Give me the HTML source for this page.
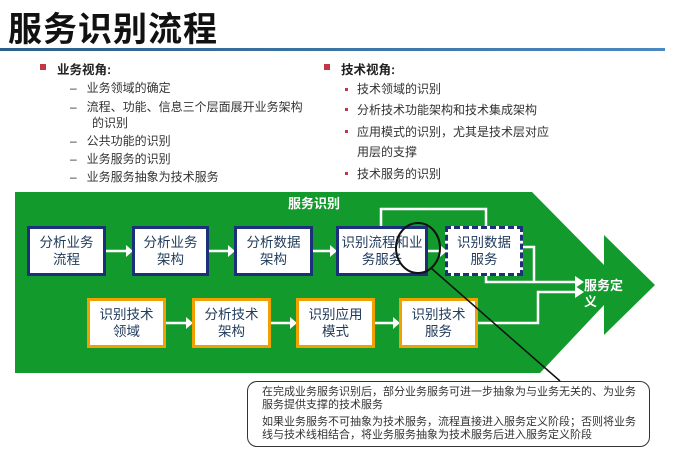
<!DOCTYPE html>
<html><head><meta charset="utf-8"><style>
body{margin:0;width:681px;height:456px;background:#fff;position:relative;overflow:hidden;font-family:"Liberation Sans","Noto Sans CJK SC",sans-serif;color:#333}
.a{position:absolute;white-space:nowrap}
.t{left:8px;top:2px;font-size:34px;font-weight:bold;color:#111;letter-spacing:1px}
.hl{left:0;top:48px;width:665px;height:3px;background:linear-gradient(90deg,#2c5f8a,#4a88c0)}
.s{font-size:12px;color:#333}
.h{font-size:12.5px;font-weight:bold;color:#222}
.sq{position:absolute;width:6px;height:6px;background:#c0394b}
.dot{position:absolute;width:3px;height:3px;background:#c0394b}
.box{position:absolute;background:#fff;box-sizing:border-box;display:flex;align-items:center;justify-content:center;text-align:center;font-size:13.5px;line-height:17px;color:#1f3a5a}
.b{border:3px solid #1c2f7a}.o{border:3px solid #f0a000}
.d{border:3px dashed #1c2f7a}
</style></head><body>
<div class="a t">服务识别流程</div>
<div class="a hl"></div>
<div class="sq" style="left:40px;top:64px"></div>
<div class="a h" style="left:57px;top:59px">业务视角:</div>
<div class="a s" style="left:70px;top:79px">–&nbsp;&nbsp;&nbsp;业务领域的确定</div>
<div class="a s" style="left:70px;top:98px">–&nbsp;&nbsp;&nbsp;流程、功能、信息三个层面展开业务架构</div>
<div class="a s" style="left:92px;top:114px">的识别</div>
<div class="a s" style="left:70px;top:132px">–&nbsp;&nbsp;&nbsp;公共功能的识别</div>
<div class="a s" style="left:70px;top:150px">–&nbsp;&nbsp;&nbsp;业务服务的识别</div>
<div class="a s" style="left:70px;top:168px">–&nbsp;&nbsp;&nbsp;业务服务抽象为技术服务</div>
<div class="sq" style="left:324px;top:64px"></div>
<div class="a h" style="left:341px;top:59px">技术视角:</div>
<div class="dot" style="left:345px;top:88px"></div><div class="a s" style="left:357px;top:80px">技术领域的识别</div>
<div class="dot" style="left:345px;top:108px"></div><div class="a s" style="left:357px;top:101px">分析技术功能架构和技术集成架构</div>
<div class="dot" style="left:345px;top:130px"></div><div class="a s" style="left:357px;top:123px">应用模式的识别，尤其是技术层对应</div>
<div class="a s" style="left:357px;top:143px">用层的支撑</div>
<div class="dot" style="left:345px;top:172px"></div><div class="a s" style="left:357px;top:165px">技术服务的识别</div>

<svg class="a" style="left:0;top:0" width="681" height="456">
<polygon points="15,192 532,192 604,265 604,235 655,285 604,335 604,305 540,373 15,373" fill="#129a2c"/>
<g stroke="#fff" stroke-width="2.5" fill="none">
<polyline points="381,226 381,209 486,209 486,282 575,282"/>
<polyline points="523,247 534,247 534,282"/>
<polyline points="478,323 538,323 538,292 575,292"/>
<line x1="106" y1="251" x2="126" y2="251"/><line x1="209" y1="251" x2="228" y2="251"/>
<line x1="313" y1="251" x2="330" y2="251"/><line x1="428" y1="251" x2="440" y2="251"/>
<line x1="166" y1="323" x2="186" y2="323"/><line x1="271" y1="323" x2="290" y2="323"/><line x1="375" y1="323" x2="393" y2="323"/>
</g>
<g fill="#fff">
<polygon points="126,245 133,251 126,257"/><polygon points="228,245 235,251 228,257"/><polygon points="330,245 337,251 330,257"/><polygon points="440,245 447,251 440,257"/>
<polygon points="186,317 193,323 186,329"/><polygon points="290,317 297,323 290,329"/><polygon points="393,317 400,323 393,329"/>
<polygon points="575,276 584,282 575,288"/><polygon points="575,286 584,292 575,298"/>
</g>
<text x="288" y="208" fill="#fff" font-size="13" font-weight="bold" font-family="Liberation Sans,Noto Sans CJK SC,sans-serif">服务识别</text>
<text x="584" y="290" fill="#fff" font-size="13" font-weight="bold" font-family="Liberation Sans,Noto Sans CJK SC,sans-serif">服务定</text>
<text x="584" y="306" fill="#fff" font-size="13" font-weight="bold" font-family="Liberation Sans,Noto Sans CJK SC,sans-serif">义</text>
</svg>
<div class="box b" style="left:27px;top:226px;width:79px;height:50px">分析业务<br>流程</div>
<div class="box b" style="left:132px;top:226px;width:77px;height:50px">分析业务<br>架构</div>
<div class="box b" style="left:234px;top:226px;width:79px;height:50px">分析数据<br>架构</div>
<div class="box b" style="left:336px;top:226px;width:92px;height:50px">识别流程和业<br>务服务</div>
<div class="box d" style="left:445px;top:226px;width:78px;height:50px">识别数据<br>服务</div>
<div class="box o" style="left:87px;top:298px;width:79px;height:50px">识别技术<br>领域</div>
<div class="box o" style="left:192px;top:298px;width:79px;height:50px">分析技术<br>架构</div>
<div class="box o" style="left:296px;top:298px;width:79px;height:50px">识别应用<br>模式</div>
<div class="box o" style="left:399px;top:298px;width:79px;height:50px">识别技术<br>服务</div>
<svg class="a" style="left:0;top:0" width="681" height="456">
<ellipse cx="418" cy="248" rx="22" ry="25" fill="none" stroke="#111" stroke-width="2"/>
<line x1="431" y1="268" x2="560" y2="381" stroke="#111" stroke-width="1.5"/>
</svg>
<div class="a" style="left:247px;top:381px;width:403px;height:66px;border:1.5px solid #333;border-radius:10px;background:#fff;box-sizing:border-box;padding:4px 12px 4px 14px;font-size:11px;line-height:13px;color:#333;white-space:normal">在完成业务服务识别后，部分业务服务可进一步抽象为与业务无关的、为业务服务提供支撑的技术服务<div style="height:4px"></div>如果业务服务不可抽象为技术服务，流程直接进入服务定义阶段；否则将业务线与技术线相结合，将业务服务抽象为技术服务后进入服务定义阶段</div>
</body></html>
